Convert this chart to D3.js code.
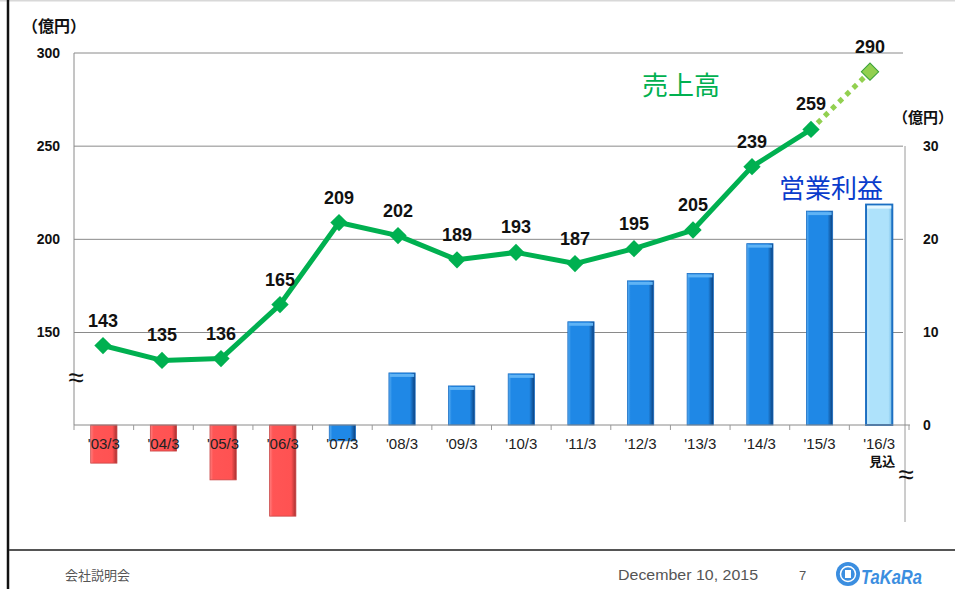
<!DOCTYPE html>
<html>
<head>
<meta charset="utf-8">
<script src="https://cdn.jsdelivr.net/npm/d3@7"></script>
<style>
  body { margin: 0; background: #fff; }
  svg { display: block; }
  text { font-family: "Liberation Sans", Arial, sans-serif; }
  .jp { font-family: "Noto Sans CJK JP", "Noto Sans", sans-serif; }
</style>
</head>
<body>
<div id="chart"></div>
<script>
var categories = ["'03/3", "'04/3", "'05/3", "'06/3", "'07/3", "'08/3", "'09/3", "'10/3", "'11/3", "'12/3", "'13/3", "'14/3", "'15/3", "'16/3"];
var sales = [143, 135, 136, 165, 209, 202, 189, 193, 187, 195, 205, 239, 259, 290];
var profit = [-4.1, -2.8, -5.9, -9.8, -1.7, 5.6, 4.2, 5.5, 11.1, 15.5, 16.3, 19.5, 23.0, 23.7];
var barKind = ["loss", "loss", "loss", "loss", "profit", "profit", "profit", "profit", "profit", "profit", "profit", "profit", "profit", "forecast"];
var salesTicks = [150, 200, 250, 300];
var profitTicks = [0, 10, 20, 30];

var W = 955, H = 589;
var svg = d3.select('#chart')
  .append('svg')
  .attr('width', W)
  .attr('height', H);

// slide frame
svg.append('rect').attr('width', W).attr('height', H).attr('fill', '#fff');
svg.append('line').attr('x1', 0).attr('x2', W).attr('y1', 0.5).attr('y2', 0.5)
  .attr('stroke', '#d8d8d8').attr('stroke-width', 2);
svg.append('line').attr('x1', 8).attr('x2', 8).attr('y1', 0).attr('y2', H)
  .attr('stroke', '#111').attr('stroke-width', 2.5);
svg.append('line').attr('x1', 9).attr('x2', W).attr('y1', 550).attr('y2', 550)
  .attr('stroke', '#555').attr('stroke-width', 2);

// gradients for the bevelled bars
var defs = svg.append('defs');
function grad(id, stops) {
  var g = defs.append('linearGradient').attr('id', id)
    .attr('x1', '0%').attr('x2', '100%').attr('y1', '0%').attr('y2', '0%');
  stops.forEach(s => g.append('stop').attr('offset', s[0]).attr('stop-color', s[1]));
}
grad('gBlue', [['0%', '#5aaef2'], ['12%', '#1f88e6'], ['80%', '#1f88e6'], ['100%', '#0b3f7c']]);
grad('gRed', [['0%', '#ff8080'], ['12%', '#ff5555'], ['82%', '#ff5252'], ['100%', '#a83030']]);
grad('gLight', [['0%', '#d6f1fe'], ['15%', '#aee2fb'], ['85%', '#aee2fb'], ['100%', '#6fb8e6']]);

// scales
const xBar = d3.scaleBand().domain(categories).range([74, 909]).paddingInner(0.56).paddingOuter(0.28);
const xLine = d3.scaleBand().domain(categories).range([73.5, 899.5]);
const ySales = d3.scaleLinear().domain([150, 300]).range([332.5, 53]);
const yProfit = d3.scaleLinear().domain([0, 30]).range([425, 146]);

const plotLeft = 74, plotRight = 903, rightAxisX = 905;

// gridlines (sales)
svg.append('g')
  .selectAll('line')
  .data(salesTicks)
  .enter().append('line')
  .attr('x1', plotLeft).attr('x2', plotRight)
  .attr('y1', d => ySales(d)).attr('y2', d => ySales(d))
  .attr('stroke', '#8a8a8a').attr('stroke-width', 1);

// left axis
svg.append('line').attr('x1', plotLeft).attr('x2', plotLeft)
  .attr('y1', ySales(300)).attr('y2', yProfit(0))
  .attr('stroke', '#8a8a8a');
svg.append('g')
  .selectAll('text')
  .data(salesTicks)
  .enter().append('text')
  .attr('x', 60).attr('y', d => ySales(d)).attr('dy', '0.35em')
  .attr('text-anchor', 'end')
  .attr('font-size', '14px').attr('font-weight', 'bold').attr('fill', '#111')
  .text(d => d);

// right axis
svg.append('line').attr('x1', rightAxisX).attr('x2', rightAxisX)
  .attr('y1', yProfit(30)).attr('y2', 522)
  .attr('stroke', '#9a9a9a');
svg.append('g')
  .selectAll('text')
  .data(profitTicks)
  .enter().append('text')
  .attr('x', 923).attr('y', d => yProfit(d)).attr('dy', '0.35em')
  .attr('text-anchor', 'start')
  .attr('font-size', '14px').attr('font-weight', 'bold').attr('fill', '#111')
  .text(d => d);

// unit labels
svg.append('text').attr('class', 'jp').attr('x', 22).attr('y', 32)
  .attr('font-size', '16px').attr('font-weight', 'bold').attr('fill', '#111').text('（億円）');
svg.append('text').attr('class', 'jp').attr('x', 893).attr('y', 123)
  .attr('font-size', '15px').attr('font-weight', 'bold').attr('fill', '#111').text('（億円）');

// axis breaks
svg.append('text').attr('x', 76).attr('y', 377).attr('dy', '0.35em')
  .attr('text-anchor', 'middle').attr('font-family', 'DejaVu Sans')
  .attr('font-size', '28px').attr('fill', '#111').text('≈');
svg.append('text').attr('x', 906).attr('y', 474).attr('dy', '0.35em')
  .attr('text-anchor', 'middle').attr('font-family', 'DejaVu Sans')
  .attr('font-size', '28px').attr('fill', '#111').text('≈');

// bars (operating profit)
var barFill = { loss: 'url(#gRed)', profit: 'url(#gBlue)', forecast: 'url(#gLight)' };
var barStroke = { loss: '#c84444', profit: '#1a6ec4', forecast: '#1c6fc2' };
var idx = d => categories.indexOf(d);
var bars = svg.append('g')
  .selectAll('g')
  .data(categories)
  .enter().append('g');
bars.append('rect')
  .attr('x', d => xBar(d))
  .attr('width', xBar.bandwidth())
  .attr('y', d => Math.min(yProfit(profit[idx(d)]), yProfit(0)))
  .attr('height', d => Math.abs(yProfit(profit[idx(d)]) - yProfit(0)))
  .attr('fill', d => barFill[barKind[idx(d)]])
  .attr('stroke', d => barStroke[barKind[idx(d)]])
  .attr('stroke-width', d => barKind[idx(d)] === 'forecast' ? 2 : 0.8);
// top bevel highlight
bars.filter(d => profit[idx(d)] > 0)
  .append('rect')
  .attr('x', d => xBar(d) + 1)
  .attr('width', xBar.bandwidth() - 2)
  .attr('y', d => yProfit(profit[idx(d)]) + 1)
  .attr('height', 3)
  .attr('fill', d => barKind[idx(d)] === 'forecast' ? '#e2f6ff' : '#5fb3f5');

// x axis
svg.append('line').attr('x1', plotLeft).attr('x2', 910)
  .attr('y1', yProfit(0)).attr('y2', yProfit(0))
  .attr('stroke', '#8a8a8a');
svg.append('g')
  .selectAll('line')
  .data(d3.range(categories.length + 1))
  .enter().append('line')
  .attr('x1', i => xBar.range()[0] + i * xBar.step())
  .attr('x2', i => xBar.range()[0] + i * xBar.step())
  .attr('y1', yProfit(0)).attr('y2', yProfit(0) + 5)
  .attr('stroke', '#9a9a9a');
svg.append('g')
  .attr('transform', 'translate(0,' + yProfit(0) + ')')
  .call(d3.axisBottom(xBar).tickSize(0).tickPadding(13))
  .call(g => g.select('.domain').remove())
  .selectAll('text')
  .attr('font-family', '"Liberation Sans", Arial, sans-serif')
  .attr('font-size', '15px')
  .attr('fill', '#222');
svg.append('text').attr('class', 'jp')
  .attr('x', xBar(categories[13]) + xBar.bandwidth() / 2 + 3).attr('y', 466)
  .attr('text-anchor', 'middle')
  .attr('font-size', '13px').attr('font-weight', 'bold').attr('fill', '#111')
  .text('見込');

// sales line
var cx = d => xLine(d) + xLine.bandwidth() / 2;
var pts = categories.map((c, i) => [cx(c), ySales(sales[i])]);
var lineGen = d3.line();
svg.append('path')
  .attr('d', lineGen(pts.slice(0, 13)))
  .attr('fill', 'none').attr('stroke', '#00b050').attr('stroke-width', 5)
  .attr('stroke-linejoin', 'round');
svg.append('path')
  .attr('d', lineGen(pts.slice(12)))
  .attr('fill', 'none').attr('stroke', '#92d050').attr('stroke-width', 5)
  .attr('stroke-dasharray', '5,5').attr('stroke-dashoffset', -9);

var diamond = d3.symbol(d3.symbolSquare, 150);
svg.append('g')
  .selectAll('path')
  .data(categories)
  .enter().append('path')
  .attr('d', diamond)
  .attr('transform', (d, i) => 'translate(' + cx(d) + ',' + ySales(sales[i]) + ') rotate(45)')
  .attr('fill', (d, i) => i === 13 ? '#92d050' : '#00b050')
  .attr('stroke', (d, i) => i === 13 ? '#3aa13a' : 'none')
  .attr('stroke-width', 1);

svg.append('g')
  .selectAll('text')
  .data(categories)
  .enter().append('text')
  .attr('x', d => cx(d))
  .attr('y', (d, i) => ySales(sales[i]) - 19)
  .attr('text-anchor', 'middle')
  .attr('font-size', '18px').attr('font-weight', 'bold').attr('fill', '#111')
  .text((d, i) => sales[i]);

// series titles
svg.append('text').attr('class', 'jp').attr('x', 642).attr('y', 95)
  .attr('font-size', '26px').attr('fill', '#00b050').text('売上高');
svg.append('text').attr('class', 'jp').attr('x', 779).attr('y', 198)
  .attr('font-size', '26px').attr('fill', '#0a3ccc').text('営業利益');

// footer
svg.append('text').attr('class', 'jp').attr('x', 65).attr('y', 580)
  .attr('font-size', '13px').attr('fill', '#555').text('会社説明会');
svg.append('text').attr('x', 618).attr('y', 580)
  .attr('font-size', '14px').attr('fill', '#555')
  .attr('textLength', 140).attr('lengthAdjust', 'spacingAndGlyphs')
  .text('December 10, 2015');
svg.append('text').attr('x', 799).attr('y', 580)
  .attr('font-size', '13px').attr('fill', '#555').text('7');

// logo
var logo = svg.append('g').attr('transform', 'translate(848,574)');
logo.append('circle').attr('r', 12).attr('fill', '#3b8ee0');
logo.append('circle').attr('r', 7.5).attr('fill', 'none').attr('stroke', '#fff').attr('stroke-width', 1.5);
logo.append('rect').attr('x', -3).attr('y', -4).attr('width', 6).attr('height', 8).attr('fill', '#fff');
svg.append('text').attr('x', 861).attr('y', 584)
  .attr('font-size', '20px').attr('font-weight', 'bold').attr('font-style', 'italic')
  .attr('fill', '#3b8ee0')
  .attr('textLength', 61).attr('lengthAdjust', 'spacingAndGlyphs')
  .text('TaKaRa');
</script>
</body>
</html>
